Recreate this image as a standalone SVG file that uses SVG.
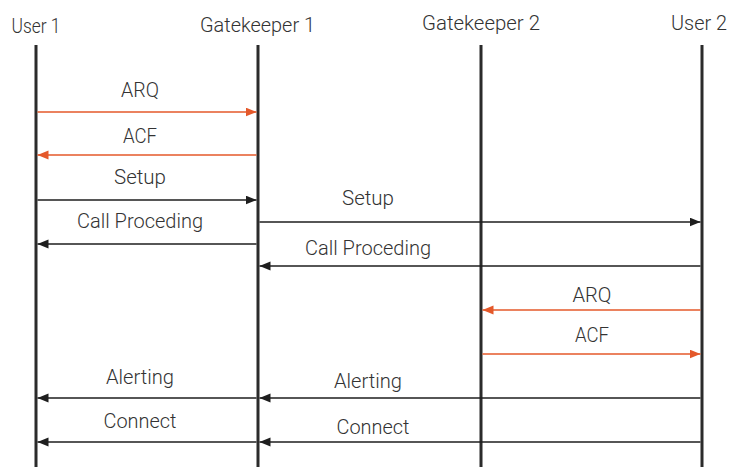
<svg xmlns="http://www.w3.org/2000/svg" width="730" height="467" viewBox="0 0 730 467">
  <style>
    .bg { fill: #ffffff; }
    .life { stroke: #2b2b2b; stroke-width: 3; fill: none; }
    .msg { stroke: #1e1e1e; stroke-width: 1.5; fill: none; }
    .ras { stroke: #e4582a; stroke-width: 1.5; fill: none; }
    text { font-family: Roboto, "Liberation Sans", sans-serif; font-weight: 300; font-size: 21px; fill: #333333; text-anchor: middle; }
  </style>
  <defs>
    <marker id="head" markerUnits="userSpaceOnUse" markerWidth="12" markerHeight="10" refX="11" refY="4.5" orient="auto">
      <path d="M0,0 L11,4.5 L0,9 Z" fill="#1e1e1e"/>
    </marker>
    <marker id="headRas" markerUnits="userSpaceOnUse" markerWidth="12" markerHeight="10" refX="11" refY="4.5" orient="auto">
      <path d="M0,0 L11,4.5 L0,9 Z" fill="#e4582a"/>
    </marker>
  </defs>
  <rect class="bg" x="0" y="0" width="730" height="467"/>

  <!-- participants with their lifelines -->
  <g id="user1">
    <text x="36" y="33" textLength="49" lengthAdjust="spacingAndGlyphs">User 1</text>
    <line class="life" x1="36" y1="45" x2="36" y2="467"/>
  </g>
  <g id="gatekeeper1">
    <text x="257.5" y="32" textLength="115" lengthAdjust="spacingAndGlyphs">Gatekeeper 1</text>
    <line class="life" x1="258" y1="45" x2="258" y2="467"/>
  </g>
  <g id="gatekeeper2">
    <text x="481" y="30" textLength="118" lengthAdjust="spacingAndGlyphs">Gatekeeper 2</text>
    <line class="life" x1="481" y1="45" x2="481" y2="467"/>
  </g>
  <g id="user2">
    <text x="699" y="30" textLength="56" lengthAdjust="spacingAndGlyphs">User 2</text>
    <line class="life" x1="702" y1="45" x2="702" y2="467"/>
  </g>

  <!-- messages -->
  <g id="connectors">
    <line class="ras" x1="37.5" y1="112" x2="256.5" y2="112" marker-end="url(#headRas)"/>
    <line class="ras" x1="256.5" y1="155" x2="37.5" y2="155" marker-end="url(#headRas)"/>
    <line class="msg" x1="37.5" y1="200" x2="256.5" y2="200" marker-end="url(#head)"/>
    <line class="msg" x1="259.5" y1="222" x2="700.5" y2="222" marker-end="url(#head)"/>
    <line class="msg" x1="256.5" y1="244" x2="37.5" y2="244" marker-end="url(#head)"/>
    <line class="msg" x1="700.5" y1="266" x2="259.5" y2="266" marker-end="url(#head)"/>
    <line class="ras" x1="700.5" y1="310" x2="482.5" y2="310" marker-end="url(#headRas)"/>
    <line class="ras" x1="482.5" y1="354" x2="700.5" y2="354" marker-end="url(#headRas)"/>
    <line class="msg" x1="700.5" y1="398" x2="259.5" y2="398" marker-end="url(#head)"/>
    <line class="msg" x1="256.5" y1="398" x2="37.5" y2="398" marker-end="url(#head)"/>
    <line class="msg" x1="700.5" y1="442" x2="259.5" y2="442" marker-end="url(#head)"/>
    <line class="msg" x1="256.5" y1="442" x2="37.5" y2="442" marker-end="url(#head)"/>
  </g>

  <!-- message labels -->
  <g id="labels">
    <text x="140" y="97" textLength="38" lengthAdjust="spacingAndGlyphs">ARQ</text>
    <text x="140" y="143" textLength="34" lengthAdjust="spacingAndGlyphs">ACF</text>
    <text x="140" y="184" textLength="52" lengthAdjust="spacingAndGlyphs">Setup</text>
    <text x="368" y="205" textLength="52" lengthAdjust="spacingAndGlyphs">Setup</text>
    <text x="140" y="228" textLength="126" lengthAdjust="spacingAndGlyphs">Call Proceding</text>
    <text x="368" y="255" textLength="126" lengthAdjust="spacingAndGlyphs">Call Proceding</text>
    <text x="592" y="302" textLength="39" lengthAdjust="spacingAndGlyphs">ARQ</text>
    <text x="592" y="342" textLength="34" lengthAdjust="spacingAndGlyphs">ACF</text>
    <text x="140" y="384" textLength="68" lengthAdjust="spacingAndGlyphs">Alerting</text>
    <text x="368" y="388" textLength="68" lengthAdjust="spacingAndGlyphs">Alerting</text>
    <text x="140" y="428" textLength="73" lengthAdjust="spacingAndGlyphs">Connect</text>
    <text x="373" y="434" textLength="73" lengthAdjust="spacingAndGlyphs">Connect</text>
  </g>
</svg>
